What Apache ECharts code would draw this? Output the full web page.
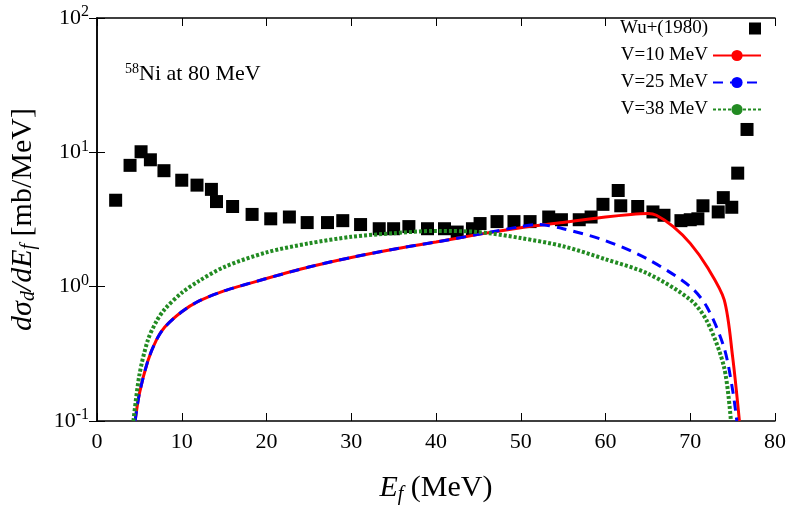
<!DOCTYPE html><html><head><meta charset="utf-8"><script src="https://cdn.jsdelivr.net/npm/echarts@6/dist/echarts.min.js"></script></head><body style="margin:0"><div id="c" style="width:789px;height:513px"></div><script>
const expE=[2.2,3.9,5.2,6.3,7.9,10.0,11.8,13.5,14.1,16.0,18.3,20.5,22.7,24.8,27.2,29.0,31.1,33.3,35.0,36.8,39.0,41.0,42.5,44.3,45.2,47.2,49.2,51.1,53.3,54.8,56.9,58.3,59.7,61.5,61.8,63.8,65.6,66.9,68.9,70.0,70.9,71.5,73.3,73.9,74.9,75.6,76.7];
const expV=[4.4,8.0,10.1,8.8,7.3,6.2,5.7,5.3,4.3,3.95,3.45,3.2,3.3,3.0,3.0,3.1,2.9,2.7,2.7,2.8,2.7,2.7,2.55,2.7,2.95,3.05,3.05,3.05,3.3,3.15,3.15,3.3,4.1,5.2,4.0,3.95,3.6,3.4,3.1,3.15,3.2,4.0,3.6,4.6,3.9,7.0,14.8];
const v10E=[4.5,5,6,7,8,10,12,15,20,25,30,35,40,45,50,55,60,63,65,66,68,70,72,74,75,75.8];
const v10V=[0.1,0.16,0.28,0.4,0.5,0.65,0.78,0.93,1.15,1.4,1.65,1.9,2.15,2.45,2.75,3.0,3.3,3.45,3.5,3.4,2.8,2.1,1.4,0.8,0.3,0.1];
const v25E=[4.5,5,6,7,8,10,12,15,20,25,30,35,40,45,50,52,55,60,65,70,72,74,75,75.5];
const v25V=[0.1,0.16,0.28,0.4,0.5,0.65,0.78,0.93,1.15,1.4,1.65,1.9,2.15,2.45,2.8,2.9,2.7,2.2,1.6,1.0,0.7,0.35,0.17,0.1];
const v38E=[4.3,5,6,7,8,10,12,15,20,25,30,35,40,45,50,55,60,65,70,72,74,74.8];
const v38V=[0.1,0.22,0.4,0.55,0.68,0.9,1.1,1.4,1.8,2.1,2.35,2.5,2.6,2.55,2.3,2.0,1.6,1.25,0.8,0.55,0.25,0.1];
const pair=(a,b)=>a.map((x,i)=>[x,b[i]]);
const F='Liberation Serif';
const c=echarts.init(document.getElementById('c'));
const pow={'0.1':'-1','1':'0','10':'1','100':'2'};
const xa={type:'value',min:0,max:80,interval:10,axisLine:{lineStyle:{color:'#000',width:1.5}},axisTick:{inside:true,length:8,lineStyle:{color:'#000'}},splitLine:{show:false}};
const ya={type:'log',min:0.1,max:100,logBase:10,axisLine:{lineStyle:{color:'#000',width:1.5}},axisTick:{inside:true,length:8,lineStyle:{color:'#000'}},splitLine:{show:false}};
c.setOption({animation:false,
grid:{left:97,right:9,top:18,bottom:92},
xAxis:[Object.assign({},xa,{name:'{i|E}{s|f} (MeV)',nameLocation:'middle',nameGap:50,nameTextStyle:{fontFamily:F,fontSize:30,color:'#000',rich:{i:{fontFamily:F,fontStyle:'italic',fontSize:30},s:{fontFamily:F,fontStyle:'italic',fontSize:20,verticalAlign:'bottom',padding:[14,0,0,0]}}},axisLabel:{fontFamily:F,fontSize:22,color:'#000',margin:10}}),
 Object.assign({},xa,{position:'top',axisLabel:{show:false}})],
yAxis:[Object.assign({},ya,{name:'{i|dσ}{s|d}{i|/dE}{s|f} [mb/MeV]',nameLocation:'middle',nameGap:58,nameTextStyle:{fontFamily:F,fontSize:30,color:'#000',rich:{i:{fontFamily:F,fontStyle:'italic',fontSize:30},s:{fontFamily:F,fontStyle:'italic',fontSize:20,padding:[12,0,0,0]}}},
 axisLabel:{fontFamily:F,fontSize:22,color:'#000',formatter:v=>'10{s|'+pow[String(v)]+'}',rich:{s:{fontFamily:F,fontSize:16,padding:[0,0,12,0]}}}}),
 Object.assign({},ya,{position:'right',axisLabel:{show:false}})],
legend:{orient:'vertical',right:22,top:14,align:'right',itemGap:8,itemWidth:48,itemHeight:14,textStyle:{fontFamily:F,fontSize:19,color:'#000'},data:[{name:'Wu+(1980)',icon:'path://M36,0H48V12H36Z M0,6H0.01V6.01H0Z',itemStyle:{color:'#000'}},'V=10 MeV','V=25 MeV','V=38 MeV']},
graphic:[{type:'text',left:125,top:62,style:{text:'{s|58}Ni at 80 MeV',fontFamily:F,fontSize:22,fill:'#000',rich:{s:{fontFamily:F,fontSize:14,padding:[0,0,10,0]}}}}],
series:[
{name:'Wu+(1980)',type:'scatter',data:pair(expE,expV),symbol:'rect',symbolSize:13,itemStyle:{color:'#000',opacity:1}},
{name:'V=10 MeV',type:'line',data:pair(v10E,v10V),symbol:'none',smooth:0.3,lineStyle:{color:'#ff0000',width:3},itemStyle:{color:'#ff0000'}},
{name:'V=25 MeV',type:'line',data:pair(v25E,v25V),symbol:'none',smooth:0.3,lineStyle:{color:'#0000ff',width:3,type:[10,7]},itemStyle:{color:'#0000ff'}},
{name:'V=38 MeV',type:'line',data:pair(v38E,v38V),symbol:'none',smooth:0.3,lineStyle:{color:'#228b22',width:4,type:[3,2]},itemStyle:{color:'#228b22'}}
]});
</script></body></html>
